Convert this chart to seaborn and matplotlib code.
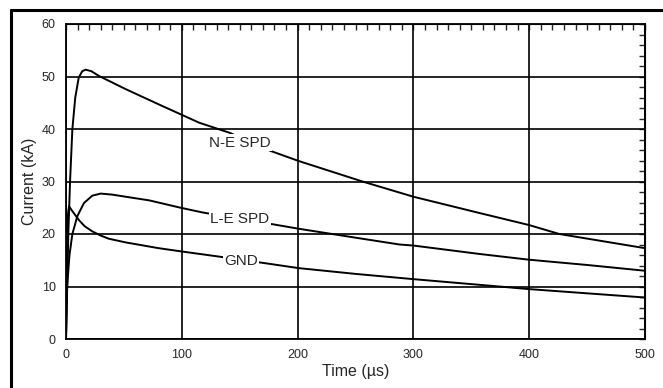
import matplotlib
matplotlib.use("Agg")
import matplotlib.pyplot as plt
from matplotlib.ticker import MultipleLocator, NullFormatter
from matplotlib import font_manager
import seaborn as sns
import pandas as pd

# ---- data ----
ne_t = [0, 2, 3.5, 5.5, 8, 11, 14, 17, 22, 28.5, 51.5, 80, 99, 115, 141, 177, 201, 256, 300, 357, 400, 426, 500]
ne_i = [0, 20, 30, 40, 46, 49.8, 51, 51.3, 51, 50.1, 47.6, 44.7, 42.8, 41.2, 39.3, 35.8, 33.9, 30, 27.1, 24.0, 21.7, 20, 17.3]

le_t = [0, 1, 3, 5.5, 9.8, 15.5, 22.7, 30, 40, 51.5, 72, 99, 118, 180, 201, 250, 288, 300, 357, 400, 450, 500]
le_i = [0, 10, 16, 20, 23.4, 25.9, 27.3, 27.7, 27.5, 27.1, 26.4, 25.0, 24.1, 21.8, 21.0, 19.3, 18.0, 17.8, 16.2, 15.1, 14.1, 13.0]

gnd_t = [0, 0.5, 1.2, 2.6, 5, 11, 16, 22.7, 30, 37, 51.5, 80, 99, 132, 170, 201, 250, 300, 374, 400, 450, 500]
gnd_i = [0, 15, 23, 25.3, 24.5, 22.7, 21.5, 20.5, 19.7, 19.1, 18.4, 17.3, 16.7, 15.7, 14.5, 13.5, 12.4, 11.4, 10.0, 9.5, 8.7, 7.9]

series_names = ["N-E SPD", "L-E SPD", "GND"]
label_pos_t = [150, 150, 151]
label_pos_i = [37.4, 22.9, 14.8]

x_ticks = [0, 100, 200, 300, 400, 500]
y_ticks = [0, 10, 20, 30, 40, 50, 60]

df = pd.concat([
    pd.DataFrame({"Time": ne_t, "Current": ne_i, "series": series_names[0]}),
    pd.DataFrame({"Time": le_t, "Current": le_i, "series": series_names[1]}),
    pd.DataFrame({"Time": gnd_t, "Current": gnd_i, "series": series_names[2]}),
], ignore_index=True)

sns.set_style("white")
plt.rcParams["font.family"] = ["Liberation Sans", "DejaVu Sans"]
names = {f.name for f in font_manager.fontManager.ttflist}
narrow = "Liberation Sans Narrow" if "Liberation Sans Narrow" in names else "Liberation Sans"

fig = plt.figure(figsize=(6.63, 3.88), dpi=100)
ax = fig.add_axes([66 / 663, (388 - 339) / 388, (645 - 66) / 663, (339 - 24) / 388])

sns.lineplot(data=df, x="Time", y="Current", hue="series", estimator=None, sort=False,
             palette={n: "black" for n in series_names}, legend=False, linewidth=1.4, ax=ax, zorder=3)

ax.set_xlim(0, 500)
ax.set_ylim(0, 60)
ax.set_xticks(x_ticks)
ax.set_yticks(y_ticks)
ax.xaxis.set_minor_locator(MultipleLocator(10))
ax.yaxis.set_minor_locator(MultipleLocator(2))
ax.grid(True, which="major", color="black", linewidth=1.2)
ax.set_axisbelow(True)
for s in ax.spines.values():
    s.set_color("black")
    s.set_linewidth(1.3)

ax.tick_params(axis="both", which="both", direction="inout", color="black", width=1.0,
               top=False, right=False)
ax.tick_params(axis="both", which="major", length=7, pad=4)
ax.tick_params(axis="both", which="minor", length=6)
ax.set_xticklabels([str(v) for v in x_ticks], fontfamily=narrow, fontsize=9)
ax.set_yticklabels([str(v) for v in y_ticks], fontfamily=narrow, fontsize=9)

# inward ticks on the top and right edges
top = ax.secondary_xaxis("top")
top.set_xticks(x_ticks)
top.xaxis.set_minor_locator(MultipleLocator(10))
top.tick_params(which="both", direction="in", length=4, width=1.0, labeltop=False)
top.xaxis.set_major_formatter(NullFormatter())
right = ax.secondary_yaxis("right")
right.set_yticks(y_ticks)
right.yaxis.set_minor_locator(MultipleLocator(2))
right.tick_params(which="both", direction="in", length=4, width=1.0, labelright=False)
right.yaxis.set_major_formatter(NullFormatter())

ax.set_xlabel("Time (µs)", fontsize=11.5, labelpad=2)
ax.set_ylabel("Current (kA)", fontsize=11.5, labelpad=3)

for name, tx, ty in zip(series_names, label_pos_t, label_pos_i):
    ax.text(tx, ty, name, fontsize=11, ha="center", va="center", zorder=5,
            bbox=dict(facecolor="white", edgecolor="none", pad=1.0))

# outer frame of the scanned figure
fig.add_artist(plt.Line2D([10.5 / 663, 10.5 / 663], [0, 1 - 10 / 388], color="black", linewidth=2.2,
                          transform=fig.transFigure))
fig.add_artist(plt.Line2D([10.5 / 663, 1], [1 - 10 / 388, 1 - 10 / 388], color="black", linewidth=2.2,
                          transform=fig.transFigure))

fig.savefig("out.png", dpi=100)
